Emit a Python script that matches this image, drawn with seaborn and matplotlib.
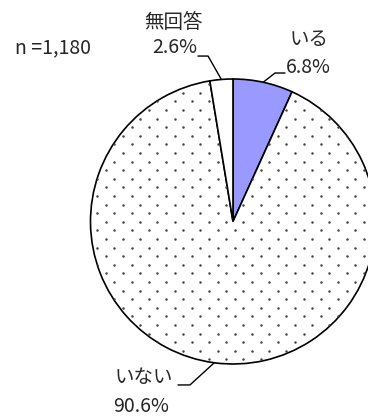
import matplotlib.pyplot as plt
import numpy as np
import seaborn as sns

# data
labels = ['いる', 'いない', '無回答']
shares = [6.8, 90.6, 2.6]
pct_text = ['6.8%', '90.6%', '2.6%']
n_text = 'n =1,180'

sns.set_theme(style='white')
plt.rcParams['font.family'] = ['Noto Sans CJK JP', 'DejaVu Sans']

fig = plt.figure(figsize=(3.68, 4.18), dpi=100)
ax = fig.add_axes([0, 0, 1, 1])

wedges, _ = ax.pie(shares, startangle=90, counterclock=False, radius=1,
                   colors=['#9999FF', 'white', 'white'],
                   wedgeprops=dict(edgecolor='black', linewidth=1.2, zorder=1))

ax.set_xlim(-233 / 142.5, 135 / 142.5)
ax.set_ylim(-196.5 / 142.5, 221.5 / 142.5)
ax.set_aspect('auto')
ax.axis('off')

# dotted fill texture for the "いない" slice (staggered grid, clipped to the wedge)
dx, dy = 0.1207, 0.06035
x0, y0 = 0.4351, 0.4807
gx, gy = [], []
for j, yy in enumerate(np.arange(y0 - 30 * dy, y0 + 20 * dy, dy)):
    off = 0 if (j % 2 == 0) else dx / 2
    for xx in np.arange(x0 - 20 * dx + off, x0 + 10 * dx, dx):
        gx.append(xx)
        gy.append(yy)
dots = ax.scatter(gx, gy, s=3.2, color='#444444', linewidths=0, zorder=1.5)
dots.set_clip_path(wedges[1])

def mid_point(w):
    a = np.deg2rad((w.theta1 + w.theta2) / 2)
    return np.cos(a) * w.r, np.sin(a) * w.r

# leader lines: wedge edge -> elbow -> end near label
elbows = {0: [(0.295, 1.042), (0.365, 1.042)],
          1: [(-0.302, -1.147), (-0.386, -1.147)],
          2: [(-0.175, 1.161), (-0.246, 1.161)]}
for i, w in enumerate(wedges):
    xm, ym = mid_point(w)
    pts = [(xm, ym)] + elbows[i]
    ax.plot([p[0] for p in pts], [p[1] for p in pts], color='black', lw=1)

fs = 14
ax.text(0.533, 1.277, labels[0], ha='center', va='center', fontsize=fs)
ax.text(0.530, 1.081, pct_text[0], ha='center', va='center', fontsize=fs)
ax.text(-0.625, -1.098, labels[1], ha='center', va='center', fontsize=fs)
ax.text(-0.642, -1.300, pct_text[1], ha='center', va='center', fontsize=fs)
ax.text(-0.418, 1.396, labels[2], ha='center', va='center', fontsize=fs)
ax.text(-0.411, 1.221, pct_text[2], ha='center', va='center', fontsize=fs)
ax.text(-1.530, 1.221, n_text, ha='left', va='center', fontsize=fs)

fig.savefig('out.png', dpi=100)
